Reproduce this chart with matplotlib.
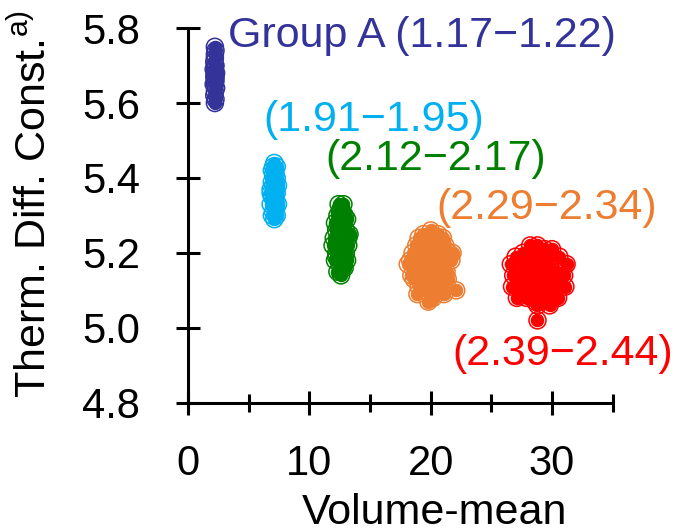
import matplotlib
matplotlib.use("Agg")
import matplotlib.pyplot as plt
from matplotlib.ticker import MultipleLocator

plt.rcParams['font.family'] = ['Liberation Sans', 'DejaVu Sans']
plt.rcParams['mathtext.fontset'] = 'custom'
plt.rcParams['mathtext.rm'] = 'Liberation Sans'

# cluster points (volume-mean, thermal diffusion const.)
xA = [2.2, 2.25, 2.15, 2.2, 2.3, 2.2, 2.1, 2.25, 2.2, 2.2, 2.15, 2.25, 2.2, 2.3, 2.2, 2.1,
      2.2, 2.25, 2.2, 2.15, 2.2, 2.2, 2.25, 2.2]
yA = [5.60, 5.61, 5.62, 5.63, 5.64, 5.65, 5.65, 5.66, 5.66, 5.67, 5.67, 5.67, 5.68, 5.68,
      5.68, 5.69, 5.69, 5.70, 5.70, 5.71, 5.72, 5.73, 5.74, 5.75]

xB = [7.1, 6.9, 7.3, 7.0, 7.2, 6.8, 7.4, 7.1, 6.9, 7.2, 7.0, 7.3, 7.1, 6.8, 7.2, 7.0, 7.4,
      7.1, 6.9, 7.3, 7.1, 7.0, 7.2, 6.9, 7.1, 7.3, 7.0, 7.1, 6.8, 7.2]
yB = [5.29, 5.30, 5.30, 5.31, 5.32, 5.33, 5.33, 5.34, 5.35, 5.35, 5.36, 5.36, 5.37, 5.37,
      5.38, 5.38, 5.38, 5.39, 5.39, 5.40, 5.40, 5.41, 5.41, 5.42, 5.42, 5.43, 5.43, 5.44,
      5.36, 5.34]

xC = [12.6, 12.3, 12.9, 12.5, 12.8, 12.1, 13.1, 12.6, 12.2, 13.0, 12.4, 12.8, 11.9, 13.2,
      12.6, 12.3, 12.9, 12.0, 13.2, 12.5, 12.7, 12.2, 13.0, 12.6, 12.4, 12.8, 12.1, 13.1,
      12.6, 12.3, 12.9, 12.5, 12.7, 12.6, 12.4, 12.8, 12.6, 13.3, 12.2, 12.6]
yC = [5.14, 5.15, 5.16, 5.17, 5.17, 5.18, 5.18, 5.19, 5.20, 5.20, 5.21, 5.21, 5.22, 5.22,
      5.23, 5.23, 5.23, 5.24, 5.24, 5.25, 5.25, 5.26, 5.26, 5.27, 5.27, 5.28, 5.28, 5.29,
      5.29, 5.30, 5.30, 5.31, 5.31, 5.32, 5.33, 5.33, 5.20, 5.25, 5.19, 5.26]

xD = [20.0, 19.4, 20.6, 19.0, 21.0, 19.8, 20.4, 18.8, 21.2, 19.6, 20.2, 18.5, 21.5, 19.2,
      20.8, 20.0, 18.3, 21.7, 19.5, 20.5, 19.0, 21.0, 20.0, 18.8, 21.3, 19.7, 20.3, 18.6,
      21.4, 20.0, 19.3, 20.7, 19.0, 21.0, 20.0, 19.5, 20.5, 18.9, 21.1, 20.0, 22.1, 18.1,
      19.8, 20.2, 21.8, 18.4, 20.0, 19.6, 20.4, 20.0]
yD = [5.26, 5.25, 5.25, 5.24, 5.24, 5.23, 5.23, 5.22, 5.22, 5.21, 5.21, 5.20, 5.20, 5.19,
      5.19, 5.18, 5.18, 5.18, 5.17, 5.17, 5.16, 5.16, 5.15, 5.15, 5.15, 5.14, 5.14, 5.13,
      5.13, 5.12, 5.12, 5.12, 5.11, 5.11, 5.10, 5.10, 5.10, 5.09, 5.09, 5.08, 5.10, 5.17,
      5.07, 5.08, 5.20, 5.14, 5.20, 5.16, 5.13, 5.18]

xE = [28.8, 28.2, 29.4, 27.6, 30.0, 28.5, 29.1, 27.0, 30.6, 28.0, 29.6, 26.6, 31.2, 27.8,
      29.8, 28.8, 27.2, 30.4, 28.4, 29.2, 26.8, 31.0, 28.0, 29.6, 27.4, 30.2, 28.8, 26.7,
      31.1, 28.3, 29.3, 27.5, 30.1, 28.8, 27.9, 29.7, 27.1, 30.5, 28.6, 29.0, 28.8, 29.8,
      27.6, 30.3, 28.2, 29.4, 28.8, 27.3, 30.0, 28.8]
yE = [5.22, 5.22, 5.21, 5.20, 5.21, 5.20, 5.20, 5.19, 5.19, 5.18, 5.18, 5.17, 5.17, 5.16,
      5.16, 5.16, 5.15, 5.15, 5.14, 5.14, 5.14, 5.14, 5.13, 5.13, 5.12, 5.12, 5.12, 5.11,
      5.11, 5.10, 5.10, 5.09, 5.09, 5.09, 5.08, 5.08, 5.08, 5.08, 5.07, 5.07, 5.06, 5.06,
      5.10, 5.12, 5.15, 5.17, 5.18, 5.13, 5.11, 5.02]

labels = ["Group A (1.17\u22121.22)", "(1.91\u22121.95)", "(2.12\u22122.17)",
          "(2.29\u22122.34)", "(2.39\u22122.44)"]
colors = ["#333399", "#00b0f0", "#008000", "#ed7d31", "#ff0000"]
label_pos = [(3.3, 5.78), (6.2, 5.555), (11.3, 5.45), (20.5, 5.32), (21.8, 4.93)]

fig = plt.figure(figsize=(6.77, 5.30), dpi=100)
ax = fig.add_axes([0.278, 0.240, 0.627, 0.707])

groups = [(xA, yA), (xB, yB), (xC, yC), (xD, yD), (xE, yE)]
for (xs, ys), c in zip(groups, colors):
    # dense overlap fills the core, outer circles stay open
    ax.scatter(xs, ys, s=95, color=c, linewidths=0, zorder=2)
    ax.scatter(xs, ys, s=150, facecolors='none', edgecolors=c, linewidths=1.1, zorder=3)

for (tx, ty), t, c in zip(label_pos, labels, colors):
    ax.text(tx, ty, t, color=c, fontsize=31, va='center', ha='left', clip_on=False)

ax.set_xlim(0, 35)
ax.set_ylim(4.8, 5.8)
ax.xaxis.set_major_locator(MultipleLocator(10))
ax.xaxis.set_minor_locator(MultipleLocator(5))
ax.yaxis.set_major_locator(MultipleLocator(0.2))
ax.yaxis.set_major_formatter(plt.FormatStrFormatter('%.1f'))

for s in ['top', 'right']:
    ax.spines[s].set_visible(False)
for s in ['left', 'bottom']:
    ax.spines[s].set_linewidth(2.2)
ax.tick_params(which='major', direction='inout', length=17, width=2.2, labelsize=30)
ax.tick_params(which='minor', direction='inout', length=13, width=2.2)
ax.tick_params(axis='x', which='major', pad=21)
ax.tick_params(axis='y', which='major', pad=26)

ax.set_xlabel("Volume-mean", fontsize=31)
ax.set_ylabel("Therm. Diff. Const.$^{\\mathrm{a)}}$", fontsize=31)
ax.xaxis.set_label_coords(0.58, -0.24)
ax.yaxis.set_label_coords(-0.315, 0.53)

fig.savefig("out.png", dpi=100)
